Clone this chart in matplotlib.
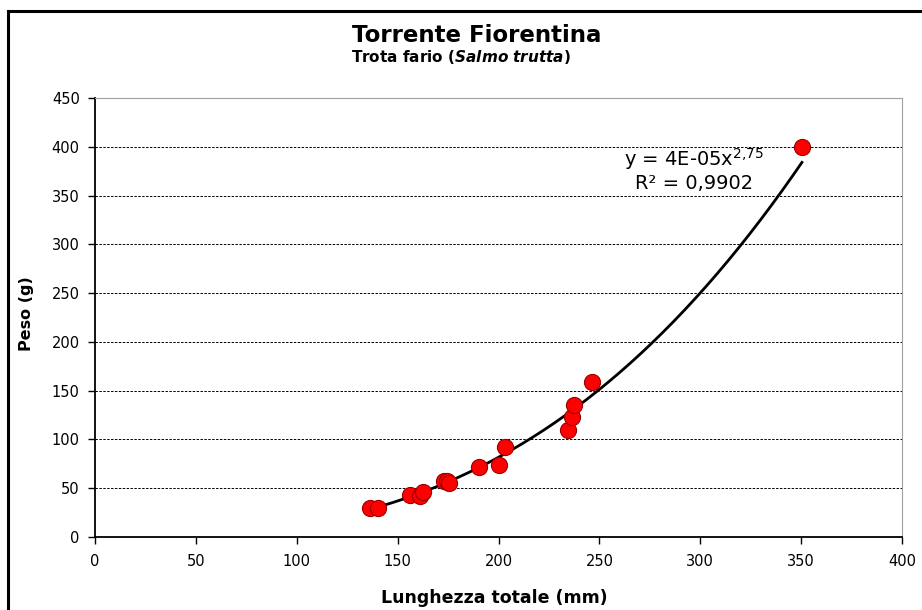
import matplotlib
matplotlib.use("Agg")
import matplotlib.pyplot as plt
from matplotlib.patches import Rectangle
import numpy as np

# lunghezza totale (mm) e peso (g)
lunghezza = np.array([136.3, 140.4, 156.1, 161.1, 162.4, 173.0, 174.6, 175.3,
                      190.5, 200.4, 203.2, 234.4, 236.6, 237.4, 246.5, 350.4])
peso = np.array([30.0, 30.0, 43.0, 42.0, 46.4, 57.4, 57.7, 55.0,
                 72.1, 74.1, 91.9, 109.7, 123.3, 135.3, 159.2, 400.0])

x_ticks = [0, 50, 100, 150, 200, 250, 300, 350, 400]
y_ticks = [0, 50, 100, 150, 200, 250, 300, 350, 400, 450]

eq_label = r'y = 4E-05x$^{\mathregular{2{,}75}}$'
r2_label = 'R² = 0,9902'

# power trend line, fit in log space like excel
b, log_a = np.polyfit(np.log(lunghezza), np.log(peso), 1)
a = np.exp(log_a)
x_fit = np.linspace(lunghezza.min(), lunghezza.max(), 200)
y_fit = a * x_fit ** b

fig = plt.figure(figsize=(9.22, 6.1), dpi=100)
ax = fig.add_axes([95 / 922, 1 - 537 / 610, 807 / 922, 439 / 610])

# chart border (goes past the right and bottom edges)
fig.patches.append(Rectangle((8 / 922, -0.05), 1.2, 1 - 11 / 610 + 0.05,
                             transform=fig.transFigure, fill=False,
                             edgecolor='black', linewidth=2.2))

ax.grid(axis='y', linestyle=(0, (2.5, 1.5)), color='black', linewidth=0.7)
ax.set_axisbelow(True)
ax.plot(x_fit, y_fit, color='black', linewidth=2, zorder=2)
ax.scatter(lunghezza, peso, s=135, color='#ff0000', edgecolors='#990000',
           linewidths=0.8, zorder=3)

ax.set_xlim(0, 400)
ax.set_ylim(0, 450)
ax.set_xticks(x_ticks)
ax.set_yticks(y_ticks)
ax.tick_params(labelsize=10.5, length=5, width=1, direction='out', colors='black')
ax.tick_params(axis='x', pad=7)
ax.tick_params(axis='y', pad=6)

ax.spines['left'].set_linewidth(1.3)
ax.spines['bottom'].set_linewidth(1.3)
ax.spines['right'].set_color('#a0a0a0')
ax.spines['right'].set_linewidth(0.8)
ax.spines['top'].set_color('#a0a0a0')
ax.spines['top'].set_linewidth(0.8)
ax.spines['top'].set_linestyle((0, (2, 1)))

ax.text(297, 387, eq_label, fontsize=14, ha='center', va='center')
ax.text(297, 362, r2_label, fontsize=14, ha='center', va='center')

fig.text(477 / 922, 1 - 35 / 610, 'Torrente Fiorentina', fontsize=16.5,
         fontweight='bold', ha='center', va='center')
fig.text(461 / 922, 1 - 57 / 610, r'Trota fario ($\mathbfit{Salmo\ trutta}$)',
         fontsize=11, fontweight='bold', ha='center', va='center')

fig.text(27 / 922, 1 - 314 / 610, 'Peso (g)', fontsize=11.5, fontweight='bold',
         rotation=90, ha='center', va='center')
fig.text(494 / 922, 1 - 598 / 610, 'Lunghezza totale (mm)', fontsize=12.5,
         fontweight='bold', ha='center', va='center')

fig.savefig('out.png', dpi=100)
